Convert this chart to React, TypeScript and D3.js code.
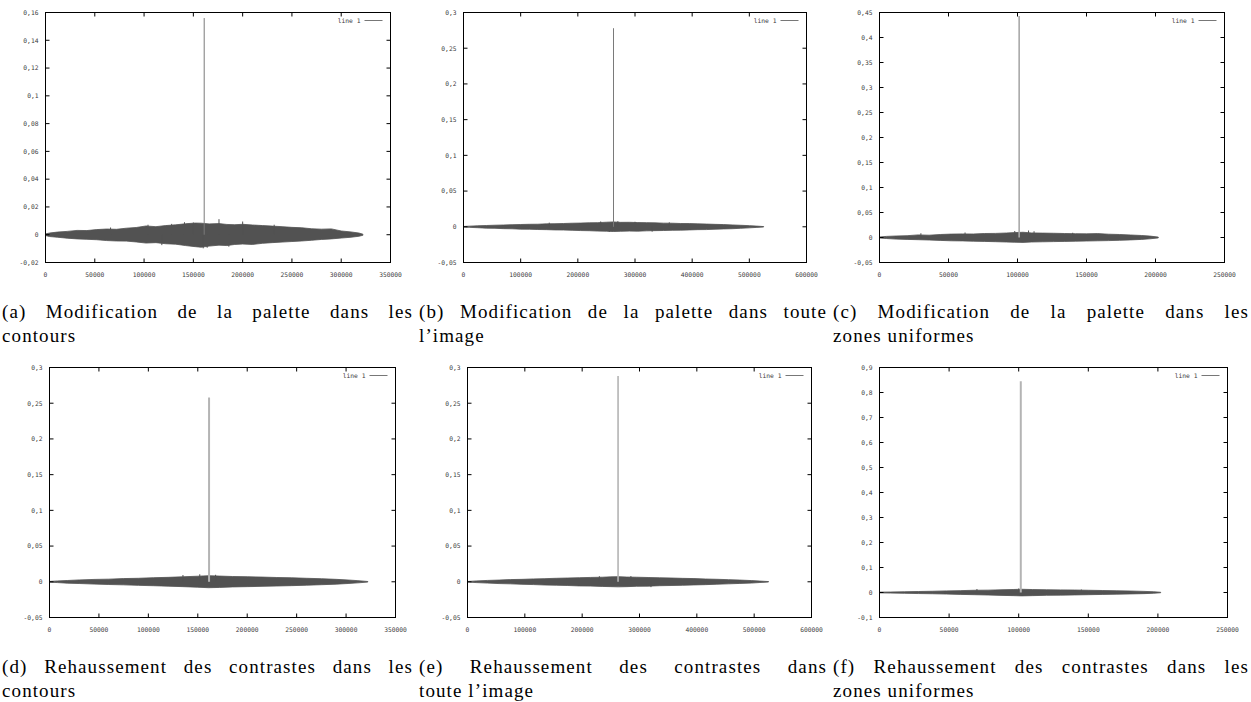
import React, { useMemo, useEffect } from 'react';
import * as d3 from 'd3';

// ---------- tick labels ----------
const aXTicks = [0, 50000, 100000, 150000, 200000, 250000, 300000, 350000];
const aYTicks = [-0.02, 0, 0.02, 0.04, 0.06, 0.08, 0.1, 0.12, 0.14, 0.16];
const bXTicks = [0, 100000, 200000, 300000, 400000, 500000, 600000];
const bYTicks = [-0.05, 0, 0.05, 0.1, 0.15, 0.2, 0.25, 0.3];
const cXTicks = [0, 50000, 100000, 150000, 200000, 250000];
const cYTicks = [-0.05, 0, 0.05, 0.1, 0.15, 0.2, 0.25, 0.3, 0.35, 0.4, 0.45];
const dXTicks = [0, 50000, 100000, 150000, 200000, 250000, 300000, 350000];
const dYTicks = [-0.05, 0, 0.05, 0.1, 0.15, 0.2, 0.25, 0.3];
const eXTicks = [0, 100000, 200000, 300000, 400000, 500000, 600000];
const eYTicks = [-0.05, 0, 0.05, 0.1, 0.15, 0.2, 0.25, 0.3];
const fXTicks = [0, 50000, 100000, 150000, 200000, 250000];
const fYTicks = [-0.1, 0, 0.1, 0.2, 0.3, 0.4, 0.5, 0.6, 0.7, 0.8, 0.9];

// ---------- peak (single large value) per panel ----------
const peakX = [161000, 262400, 101200, 161400, 262600, 101500];
const peakY = [0.156, 0.278, 0.443, 0.258, 0.288, 0.845];

// ---------- noise band envelopes ----------
const aBandX = [0, 4000, 12000, 22000, 32000, 42000, 52000, 62000, 72000, 82000, 92000, 102000, 112000, 122000, 132000, 142000, 152000, 158000, 166000, 176000, 184000, 192000, 200000, 210000, 220000, 230000, 240000, 250000, 260000, 270000, 280000, 290000, 300000, 310000, 318000, 322000];
const aUpper = [0.0006, 0.0012, 0.0019, 0.0024, 0.0031, 0.0030, 0.0037, 0.0041, 0.0039, 0.0047, 0.0052, 0.0063, 0.0058, 0.0066, 0.0071, 0.0079, 0.0084, 0.0083, 0.0078, 0.0080, 0.0074, 0.0072, 0.0075, 0.0070, 0.0066, 0.0062, 0.0058, 0.0053, 0.0050, 0.0043, 0.0040, 0.0042, 0.0027, 0.0020, 0.0012, 0.0004];
const aLower = [-0.0006, -0.0013, -0.0018, -0.0025, -0.0030, -0.0033, -0.0036, -0.0042, -0.0045, -0.0046, -0.0052, -0.0060, -0.0057, -0.0065, -0.0068, -0.0078, -0.0086, -0.0090, -0.0082, -0.0075, -0.0078, -0.0070, -0.0067, -0.0070, -0.0062, -0.0057, -0.0053, -0.0049, -0.0045, -0.0040, -0.0034, -0.0030, -0.0024, -0.0018, -0.0011, -0.0004];
const aOutX = [66000, 104000, 128000, 141000, 150000, 176000, 200000, 232000, 160000, 164000, 118000, 186000];
const aOutY = [0.0052, 0.0072, 0.0078, 0.0090, 0.0088, 0.0112, 0.0095, 0.0072, -0.0098, -0.0094, -0.0075, -0.0086];

const bBandX = [0, 10000, 25000, 40000, 55000, 70000, 85000, 100000, 115000, 130000, 145000, 160000, 175000, 190000, 205000, 220000, 235000, 250000, 262000, 275000, 290000, 305000, 320000, 335000, 350000, 365000, 380000, 395000, 410000, 425000, 440000, 455000, 470000, 485000, 500000, 512000, 525000];
const bUpper = [0.0004, 0.0009, 0.0014, 0.0018, 0.0022, 0.0025, 0.0029, 0.0032, 0.0035, 0.0036, 0.0041, 0.0043, 0.0046, 0.0050, 0.0052, 0.0056, 0.0058, 0.0064, 0.0068, 0.0062, 0.0063, 0.0059, 0.0058, 0.0055, 0.0051, 0.0050, 0.0046, 0.0045, 0.0041, 0.0038, 0.0034, 0.0031, 0.0026, 0.0021, 0.0016, 0.0010, 0.0003];
const bLower = [-0.0004, -0.0008, -0.0013, -0.0019, -0.0021, -0.0026, -0.0028, -0.0033, -0.0034, -0.0038, -0.0040, -0.0044, -0.0045, -0.0049, -0.0053, -0.0055, -0.0060, -0.0062, -0.0066, -0.0063, -0.0060, -0.0061, -0.0057, -0.0054, -0.0052, -0.0049, -0.0047, -0.0044, -0.0040, -0.0039, -0.0034, -0.0030, -0.0027, -0.0021, -0.0015, -0.0009, -0.0003];
const bOutX = [150000, 240000, 270000, 300000, 360000, 255000, 330000];
const bOutY = [0.0058, 0.0075, 0.0078, 0.0070, 0.0062, -0.0072, -0.0068];

const cBandX = [0, 5000, 12000, 20000, 28000, 36000, 44000, 52000, 60000, 68000, 76000, 84000, 92000, 98000, 104000, 110000, 118000, 126000, 134000, 142000, 150000, 158000, 166000, 174000, 182000, 190000, 196000, 202000];
const cUpper = [0.0010, 0.0022, 0.0030, 0.0036, 0.0052, 0.0046, 0.0060, 0.0068, 0.0072, 0.0070, 0.0080, 0.0082, 0.0090, 0.0098, 0.0105, 0.0092, 0.0088, 0.0085, 0.0080, 0.0076, 0.0073, 0.0078, 0.0066, 0.0060, 0.0050, 0.0040, 0.0028, 0.0008];
const cLower = [-0.0010, -0.0020, -0.0032, -0.0038, -0.0044, -0.0050, -0.0058, -0.0066, -0.0068, -0.0074, -0.0078, -0.0084, -0.0090, -0.0095, -0.0098, -0.0090, -0.0086, -0.0082, -0.0078, -0.0074, -0.0070, -0.0066, -0.0062, -0.0056, -0.0048, -0.0038, -0.0026, -0.0008];
const cOutX = [30000, 62000, 98000, 108000, 112000, 140000];
const cOutY = [0.0085, 0.0100, 0.0130, 0.0140, 0.0125, 0.0095];

const dBandX = [0, 8000, 18000, 30000, 45000, 60000, 75000, 90000, 105000, 120000, 135000, 150000, 161000, 172000, 185000, 200000, 215000, 230000, 245000, 260000, 275000, 290000, 302000, 312000, 322000];
const dUpper = [0.0005, 0.0012, 0.0018, 0.0026, 0.0033, 0.0037, 0.0045, 0.0049, 0.0057, 0.0062, 0.0070, 0.0078, 0.0085, 0.0080, 0.0074, 0.0071, 0.0066, 0.0060, 0.0056, 0.0049, 0.0043, 0.0034, 0.0025, 0.0016, 0.0004];
const dLower = [-0.0005, -0.0011, -0.0019, -0.0024, -0.0032, -0.0038, -0.0043, -0.0050, -0.0055, -0.0061, -0.0068, -0.0076, -0.0083, -0.0079, -0.0072, -0.0068, -0.0064, -0.0059, -0.0054, -0.0048, -0.0041, -0.0033, -0.0024, -0.0015, -0.0004];
const dOutX = [135000, 152000, 168000];
const dOutY = [0.0095, 0.0105, 0.0098];

const eBandX = [0, 15000, 35000, 55000, 75000, 95000, 115000, 135000, 155000, 175000, 195000, 215000, 235000, 250000, 263000, 278000, 295000, 315000, 335000, 355000, 375000, 395000, 415000, 435000, 455000, 475000, 495000, 510000, 525000];
const eUpper = [0.0004, 0.0012, 0.0019, 0.0024, 0.0031, 0.0034, 0.0040, 0.0044, 0.0049, 0.0053, 0.0057, 0.0061, 0.0064, 0.0069, 0.0072, 0.0066, 0.0064, 0.0060, 0.0056, 0.0053, 0.0048, 0.0045, 0.0039, 0.0035, 0.0030, 0.0024, 0.0017, 0.0010, 0.0003];
const eLower = [-0.0004, -0.0011, -0.0018, -0.0025, -0.0029, -0.0035, -0.0039, -0.0045, -0.0048, -0.0052, -0.0058, -0.0060, -0.0065, -0.0068, -0.0071, -0.0068, -0.0063, -0.0061, -0.0055, -0.0052, -0.0049, -0.0044, -0.0040, -0.0034, -0.0029, -0.0023, -0.0018, -0.0010, -0.0003];
const eOutX = [230000, 285000, 320000];
const eOutY = [0.0078, 0.0080, -0.0075];

const fBandX = [0, 8000, 18000, 28000, 38000, 48000, 58000, 68000, 78000, 88000, 96000, 102000, 110000, 120000, 130000, 140000, 150000, 160000, 170000, 180000, 190000, 197000, 202000];
const fUpper = [0.0015, 0.0020, 0.0030, 0.0040, 0.0050, 0.0065, 0.0075, 0.0090, 0.0095, 0.0110, 0.0120, 0.0130, 0.0118, 0.0110, 0.0105, 0.0100, 0.0090, 0.0080, 0.0070, 0.0060, 0.0045, 0.0030, 0.0010];
const fLower = [-0.0015, -0.0022, -0.0032, -0.0042, -0.0050, -0.0062, -0.0075, -0.0088, -0.0100, -0.0115, -0.0125, -0.0135, -0.0125, -0.0112, -0.0105, -0.0098, -0.0088, -0.0078, -0.0068, -0.0058, -0.0045, -0.0030, -0.0010];
const fOutX = [70000, 100000, 145000];
const fOutY = [0.0140, 0.0160, 0.0120];

// ---------- captions ----------
const captionLine1 = [
  '(a) Modification de la palette dans les',
  '(b) Modification de la palette dans toute',
  '(c) Modification de la palette dans les',
  '(d) Rehaussement des contrastes dans les',
  '(e) Rehaussement des contrastes dans',
  '(f) Rehaussement des contrastes dans les',
];
const captionLine2 = ['contours', 'l\u2019image', 'zones uniformes', 'contours', 'toute l\u2019image', 'zones uniformes'];
const legendLabel = 'line 1';

// ---------- layout (not data) ----------
const boxes = [
  { l: 45.5, t: 12.5, r: 390.5, b: 262.5 },
  { l: 463.5, t: 12.5, r: 806.5, b: 262.5 },
  { l: 879.5, t: 12.5, r: 1224.5, b: 262.5 },
  { l: 49.5, t: 367.5, r: 395.5, b: 617.5 },
  { l: 467.5, t: 367.5, r: 811.5, b: 617.5 },
  { l: 879.5, t: 367.5, r: 1227.5, b: 617.5 },
];
const capCols = [
  [2, 413],
  [419, 827],
  [833, 1249],
];
const capBase = [318, 673];
const CAP_SIZE = 19;
const CAP_LS = 1.1;
const CAP_FONT_FAMILY = '"Liberation Serif", "Times New Roman", serif';

const peakStyle = [
  { c: '#7a7a7a', w: 1 },
  { c: '#7a7a7a', w: 1 },
  { c: '#a8a8a8', w: 1.6 },
  { c: '#b4b4b4', w: 2 },
  { c: '#b4b4b4', w: 1.6 },
  { c: '#b4b4b4', w: 2 },
];

const panelsData = [
  { xd: [0, 350000], yd: [-0.02, 0.16], xt: aXTicks, yt: aYTicks, bx: aBandX, bu: aUpper, bl: aLower, ox: aOutX, oy: aOutY },
  { xd: [0, 600000], yd: [-0.05, 0.3], xt: bXTicks, yt: bYTicks, bx: bBandX, bu: bUpper, bl: bLower, ox: bOutX, oy: bOutY },
  { xd: [0, 250000], yd: [-0.05, 0.45], xt: cXTicks, yt: cYTicks, bx: cBandX, bu: cUpper, bl: cLower, ox: cOutX, oy: cOutY },
  { xd: [0, 350000], yd: [-0.05, 0.3], xt: dXTicks, yt: dYTicks, bx: dBandX, bu: dUpper, bl: dLower, ox: dOutX, oy: dOutY },
  { xd: [0, 600000], yd: [-0.05, 0.3], xt: eXTicks, yt: eYTicks, bx: eBandX, bu: eUpper, bl: eLower, ox: eOutX, oy: eOutY },
  { xd: [0, 250000], yd: [-0.1, 0.9], xt: fXTicks, yt: fYTicks, bx: fBandX, bu: fUpper, bl: fLower, ox: fOutX, oy: fOutY },
];

const locale = d3.formatLocale({ decimal: ',', thousands: '', grouping: [3], currency: ['', ''], minus: '-' });
const fmtY = locale.format('~g');
const fmtX = locale.format('d');

const TICK_FONT = '"DejaVu Sans Mono", monospace';
const TICK_SIZE = 6.3;
const TICK_COLOR = '#3a3a3a';
const BAND = '#525252';

let measureCtx: CanvasRenderingContext2D | null = null;
function textWidth(s: string): number {
  if (!measureCtx) {
    const c = document.createElement('canvas');
    measureCtx = c.getContext('2d');
  }
  if (!measureCtx) return s.length * CAP_SIZE * 0.45;
  measureCtx.font = `${CAP_SIZE}px "Liberation Serif"`;
  return measureCtx.measureText(s).width + CAP_LS * s.length;
}

function Panel({ i }: { i: number }) {
  const p = panelsData[i];
  const bx = boxes[i];
  const x = d3.scaleLinear().domain(p.xd).range([bx.l, bx.r]);
  const y = d3.scaleLinear().domain(p.yd).range([bx.b, bx.t]);
  const band = p.bx.map((v, k) => ({ x: v, u: p.bu[k], lo: p.bl[k] }));
  const area = d3
    .area<{ x: number; u: number; lo: number }>()
    .x((d) => x(d.x))
    .y0((d) => y(d.lo))
    .y1((d) => y(d.u));
  const tl = 4;
  const ps = peakStyle[i];
  return (
    <g>
      <path d={area(band) || ''} fill={BAND} stroke={BAND} strokeWidth={0.8} />
      {p.ox.map((ov, k) => (
        <line key={'o' + k} x1={x(ov)} x2={x(ov)} y1={y(0)} y2={y(p.oy[k])} stroke={BAND} strokeWidth={1} />
      ))}
      <line x1={x(peakX[i])} x2={x(peakX[i])} y1={y(0)} y2={y(peakY[i])} stroke={ps.c} strokeWidth={ps.w} />
      <rect x={bx.l} y={bx.t} width={bx.r - bx.l} height={bx.b - bx.t} fill="none" stroke="#000" strokeWidth={1} />
      {p.xt.map((t) => (
        <g key={'x' + t}>
          <line x1={x(t)} x2={x(t)} y1={bx.b} y2={bx.b - tl} stroke="#000" strokeWidth={1} />
          <line x1={x(t)} x2={x(t)} y1={bx.t} y2={bx.t + tl} stroke="#000" strokeWidth={1} />
          <text x={x(t)} y={bx.b + 14} textAnchor="middle" fontFamily={TICK_FONT} fontSize={TICK_SIZE} fill={TICK_COLOR}>
            {fmtX(t)}
          </text>
        </g>
      ))}
      {p.yt.map((t) => (
        <g key={'y' + t}>
          <line x1={bx.l} x2={bx.l + tl} y1={y(t)} y2={y(t)} stroke="#000" strokeWidth={1} />
          <line x1={bx.r} x2={bx.r - tl} y1={y(t)} y2={y(t)} stroke="#000" strokeWidth={1} />
          <text x={bx.l - 7} y={y(t) + 2.3} textAnchor="end" fontFamily={TICK_FONT} fontSize={TICK_SIZE} fill={TICK_COLOR}>
            {fmtY(t)}
          </text>
        </g>
      ))}
      <text x={bx.r - 30} y={bx.t + 10.3} textAnchor="end" fontFamily={TICK_FONT} fontSize={TICK_SIZE} fill={TICK_COLOR}>
        {legendLabel}
      </text>
      <line x1={bx.r - 26} x2={bx.r - 8} y1={bx.t + 8} y2={bx.t + 8} stroke="#777" strokeWidth={1} />
    </g>
  );
}

function Caption({ i }: { i: number }) {
  const col = capCols[i % 3];
  const base = capBase[Math.floor(i / 3)];
  const words = captionLine1[i].split(' ');
  const layout = useMemo(() => {
    const ws = words.map((w) => textWidth(w));
    const total = ws.reduce((a, b) => a + b, 0);
    const gap = (col[1] - col[0] - total) / (words.length - 1);
    let cx = col[0];
    return ws.map((w) => {
      const pos = cx;
      cx += w + gap;
      return pos;
    });
  }, [i]);
  const style = { letterSpacing: `${CAP_LS}px` } as React.CSSProperties;
  return (
    <g fontFamily={CAP_FONT_FAMILY} fontSize={CAP_SIZE} fill="#000" style={style}>
      {words.map((w, k) => (
        <text key={k} x={layout[k]} y={base}>
          {w}
        </text>
      ))}
      <text x={col[0]} y={base + 24}>
        {captionLine2[i]}
      </text>
    </g>
  );
}

export default function App() {
  useEffect(() => {
    document.body.style.margin = '0';
    document.body.style.overflow = 'hidden';
  }, []);
  return (
    <svg
      width={1251}
      height={702}
      viewBox="0 0 1251 702"
      style={{ position: 'absolute', left: 0, top: 0, background: '#fff', display: 'block' }}
    >
      <rect x={0} y={0} width={1251} height={702} fill="#fff" />
      {panelsData.map((_, i) => (
        <Panel key={'p' + i} i={i} />
      ))}
      {panelsData.map((_, i) => (
        <Caption key={'c' + i} i={i} />
      ))}
    </svg>
  );
}
